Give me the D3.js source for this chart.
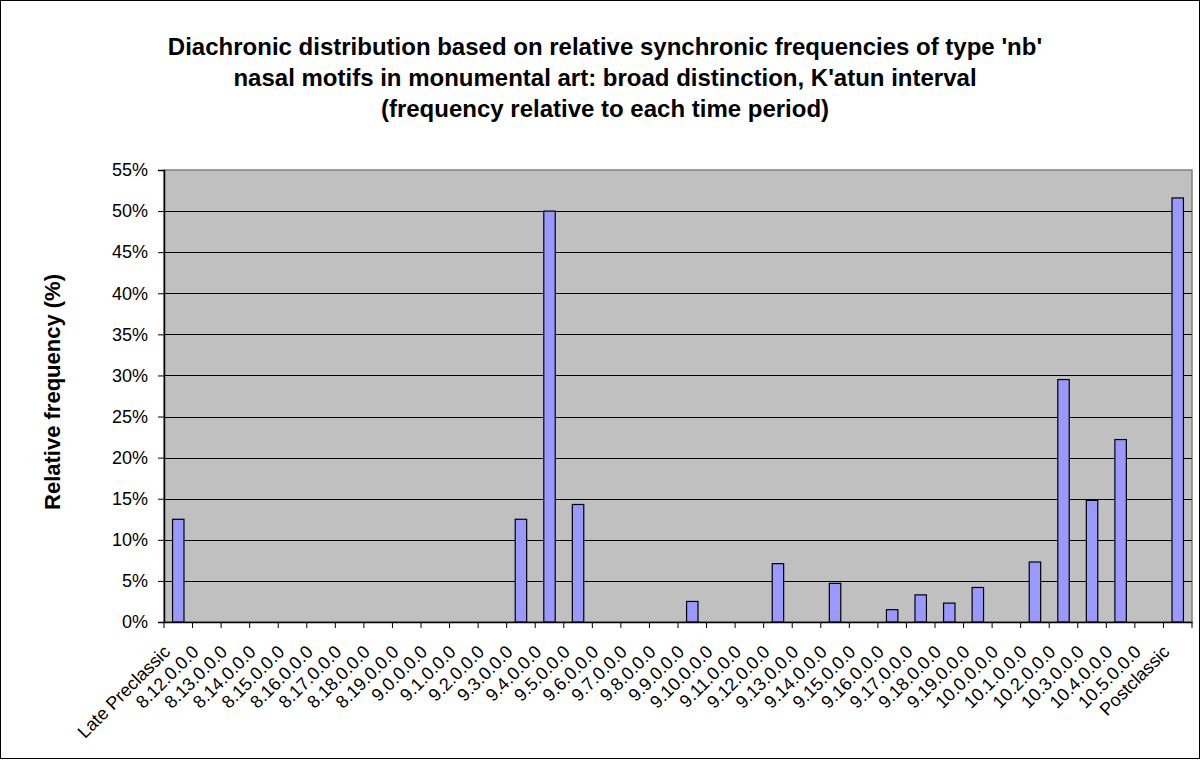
<!DOCTYPE html>
<html>
<head>
<meta charset="utf-8">
<script src="https://cdn.jsdelivr.net/npm/d3@7"></script>
<style>
  html, body { margin: 0; padding: 0; background: #fff; }
  svg { display: block; font-family: Arial, "Liberation Sans", sans-serif; }
</style>
</head>
<body>
<svg id="chart" width="1201" height="760"></svg>
<script>
const categories = ["Late Preclassic","8.12.0.0.0","8.13.0.0.0","8.14.0.0.0","8.15.0.0.0","8.16.0.0.0","8.17.0.0.0","8.18.0.0.0","8.19.0.0.0","9.0.0.0.0","9.1.0.0.0","9.2.0.0.0","9.3.0.0.0","9.4.0.0.0","9.5.0.0.0","9.6.0.0.0","9.7.0.0.0","9.8.0.0.0","9.9.0.0.0","9.10.0.0.0","9.11.0.0.0","9.12.0.0.0","9.13.0.0.0","9.14.0.0.0","9.15.0.0.0","9.16.0.0.0","9.17.0.0.0","9.18.0.0.0","9.19.0.0.0","10.0.0.0.0","10.1.0.0.0","10.2.0.0.0","10.3.0.0.0","10.4.0.0.0","10.5.0.0.0","Postclassic"];
const values = [0.125,0,0,0,0,0,0,0,0,0,0,0,0.125,0.50,0.143,0,0,0,0.025,0,0,0.071,0,0.047,0,0.015,0.033,0.023,0.042,0,0.073,0.295,0.148,0.222,0,0.516];
const yTicks = [0,0.05,0.10,0.15,0.20,0.25,0.30,0.35,0.40,0.45,0.50,0.55];
const titleLines = ["Diachronic distribution based on relative synchronic frequencies of type 'nb'","nasal motifs in monumental art: broad distinction, K'atun interval","(frequency relative to each time period)"];
const yTitle = "Relative frequency (%)";

const svg = d3.select("#chart");
const L = 164, R = 1192, T = 170, B = 622;
const FONT = "Arial, 'Liberation Sans', sans-serif";

// chart border
svg.append("rect").attr("x",0.5).attr("y",0.5).attr("width",1199).attr("height",758)
  .attr("fill","#fff").attr("stroke","#000").attr("stroke-width",1);

const x = d3.scaleBand().domain(categories).range([L,R]).paddingInner(0.6).paddingOuter(0.3);
const y = d3.scaleLinear().domain([0,0.55]).range([B,T]);

// plot area
svg.append("rect").attr("x",L).attr("y",T).attr("width",R-L).attr("height",B-T)
  .attr("fill","#C0C0C0").attr("stroke","#808080").attr("stroke-width",1.5);

// gridlines
svg.append("g").selectAll("line").data(yTicks.filter(d=>d>0 && d<0.55)).join("line")
  .attr("x1",L).attr("x2",R).attr("y1",d=>Math.round(y(d))+0.5).attr("y2",d=>Math.round(y(d))+0.5)
  .attr("stroke","#000").attr("stroke-width",1);

// y axis
const yAxis = d3.axisLeft(y).tickValues(yTicks).tickFormat(d3.format(".0%")).tickSize(6).tickPadding(10);
const gy = svg.append("g").attr("transform",`translate(${L},0)`).call(yAxis);
gy.select(".domain").attr("stroke","#000").attr("stroke-width",1.5);
gy.selectAll(".tick line").attr("stroke","#000");
gy.selectAll(".tick text").attr("font-size",18).attr("fill","#000").attr("font-family",FONT);

// bars
svg.append("g").selectAll("rect").data(categories.map((c,i)=>({c, v: values[i]})).filter(d=>d.v>0)).join("rect")
  .attr("x",d=>x(d.c)).attr("width",x.bandwidth())
  .attr("y",d=>y(d.v)).attr("height",d=>y(0)-y(d.v))
  .attr("fill","#9999FF").attr("stroke","#000").attr("stroke-width",1.2);

// x axis
const xAxis = d3.axisBottom(x).tickSize(0).tickPadding(0);
const gx = svg.append("g").attr("transform",`translate(0,${B})`).call(xAxis);
gx.select(".domain").attr("stroke","#000").attr("stroke-width",1.5);
gx.selectAll(".tick text")
  .attr("font-size",18).attr("fill","#000").attr("font-family",FONT)
  .attr("text-anchor","end")
  .attr("transform","translate(-7,31) rotate(-45)")
  .attr("dy","0").attr("y",0).attr("x",0);
// boundary ticks
const half = (x.step()-x.bandwidth())/2;
const bounds = categories.map(c=>x(c)-half).concat([R]);
svg.append("g").selectAll("line").data(bounds).join("line")
  .attr("x1",d=>d).attr("x2",d=>d).attr("y1",B).attr("y2",B+6)
  .attr("stroke","#000").attr("stroke-width",1);

// title
svg.append("text").attr("x",605).attr("y",55).attr("text-anchor","middle")
  .attr("font-size",24).attr("font-weight","bold").attr("fill","#000").attr("font-family",FONT)
  .selectAll("tspan").data(titleLines).join("tspan")
  .attr("x",605).attr("dy",(d,i)=>i===0?0:31).text(d=>d);

// y title
svg.append("text").attr("transform",`translate(60,${(T+B)/2 - 4}) rotate(-90)`)
  .attr("text-anchor","middle").attr("font-size",22).attr("font-weight","bold").attr("fill","#000").attr("font-family",FONT)
  .text(yTitle);
</script>
</body>
</html>
